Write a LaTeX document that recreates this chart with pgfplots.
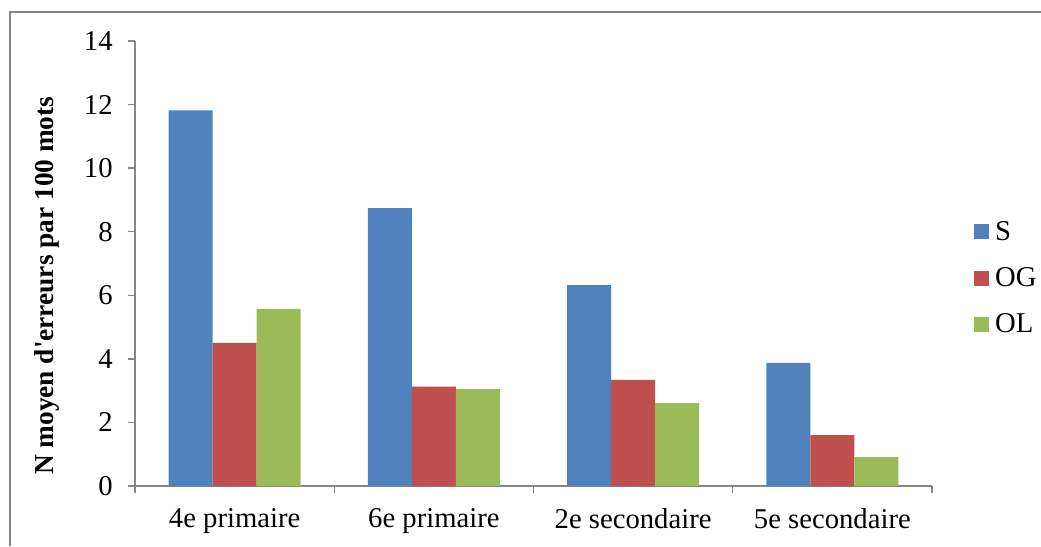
\documentclass[border=0pt]{standalone}
\usepackage{fontspec}
\setmainfont{Liberation Serif}
\usepackage{pgfplots}
\pgfplotsset{compat=1.18}

\definecolor{cS}{HTML}{4F81BD}
\definecolor{cOG}{HTML}{C0504D}
\definecolor{cOL}{HTML}{9BBB59}
\definecolor{axgray}{HTML}{868686}

\begin{document}
\begin{tikzpicture}
\begin{axis}[
  at={(0,0)}, anchor=south west,
  scale only axis, width=597.75pt, height=333.75pt,
  ybar, bar width=33pt,
  xmin=-0.5, xmax=3.5, ymin=0, ymax=14,
  ytick={0,2,...,14},
  xtick={0,1,2,3},
  xticklabels={4e primaire,6e primaire,2e secondaire,5e secondaire},
  minor xtick={-0.5,0.5,1.5,2.5,3.5},
  major x tick style={draw=none},
  tick align=outside, tick style={axgray, line width=1pt},
  major tick length=5.25pt, minor tick length=5.25pt,
  axis x line*=bottom, axis y line*=left,
  axis line style={axgray, line width=1pt, -},
  tick label style={font=\fontsize{21.5}{25}\selectfont, black},
  xticklabel style={yshift=-8pt},
  yticklabel style={xshift=-8pt},
  /pgf/number format/assume math mode=true,
  ylabel={\textbf{N moyen d\textquotesingle erreurs par 100 mots}},
  ylabel style={font=\fontsize{20.5}{24}\selectfont, at={(axis description cs:-0.11,0.45)}, anchor=center, rotate=0},
  legend style={draw=none, at={(1.052,0.60)}, anchor=north west,
    font=\fontsize{21.5}{25}\selectfont, row sep=16pt, inner sep=0pt,
    nodes={inner sep=1.5pt}},
  legend cell align=left,
  legend image code/.code={\fill[#1] (0pt,-5.6pt) rectangle (11.25pt,5.6pt); \path (14.5pt,0pt);},
]
\addplot[fill=cS, draw=none, bar shift=-33pt] coordinates {(0,11.82) (1,8.74) (2,6.32) (3,3.87)};
\addplot[fill=cOG, draw=none, bar shift=0pt] coordinates {(0,4.50) (1,3.13) (2,3.34) (3,1.60)};
\addplot[fill=cOL, draw=none, bar shift=33pt] coordinates {(0,5.57) (1,3.05) (2,2.61) (3,0.91)};
\legend{S,OG,OL}
\end{axis}
\draw[axgray, line width=1pt] (-93.75pt,-45pt) -- (-93.75pt,355.5pt) -- (679.5pt,355.5pt);
\pgfresetboundingbox
\path[use as bounding box] (-101.25pt,-45pt) rectangle (679.5pt,364.5pt);
\end{tikzpicture}
\end{document}
